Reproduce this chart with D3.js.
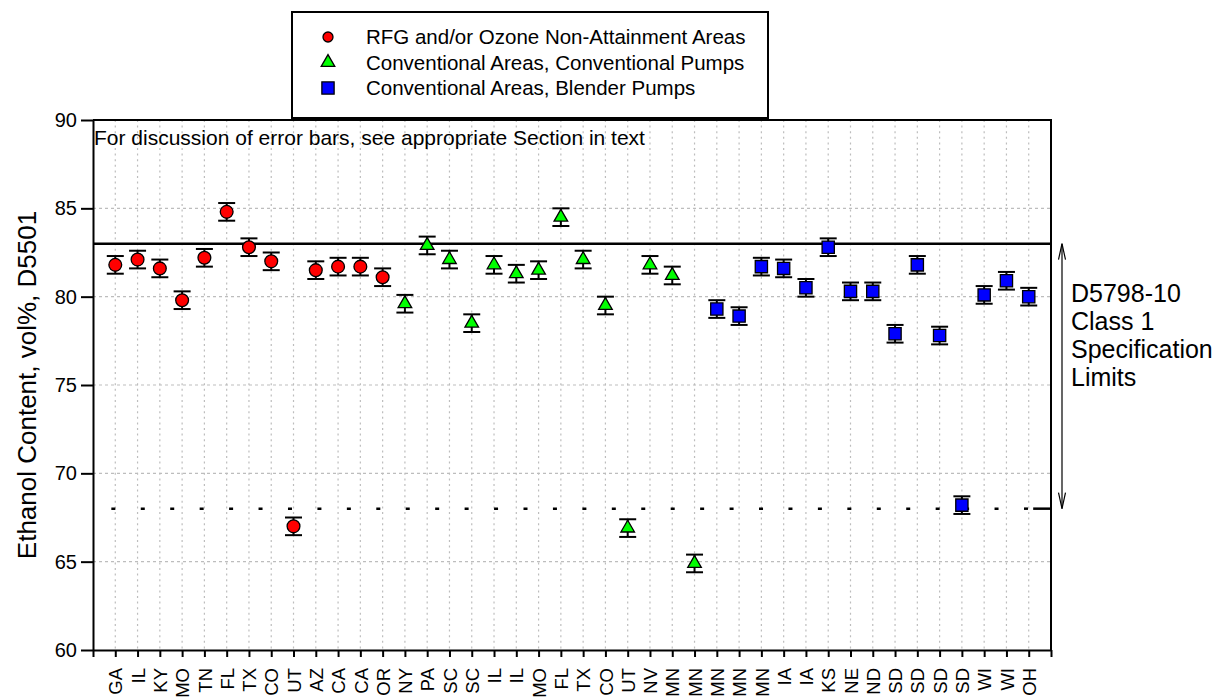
<!DOCTYPE html>
<html>
<head>
<meta charset="utf-8">
<script src="https://cdn.jsdelivr.net/npm/d3@7"></script>
<style>
  body { margin: 0; background: #fff; }
  svg { display: block; font-family: "Liberation Sans", Arial, sans-serif; }
</style>
</head>
<body>
<div id="chart"></div>
<script>
'use strict'

////////////////////////////////////////
/////////////// Data ///////////////////
////////////////////////////////////////

const rfgStates = ["GA", "IL", "KY", "MO", "TN", "FL", "TX", "CO", "UT", "AZ", "CA", "CA", "OR"];
const rfgValues = [81.8, 82.1, 81.6, 79.8, 82.2, 84.8, 82.8, 82.0, 67.0, 81.5, 81.7, 81.7, 81.1];

const convStates = ["NY", "PA", "SC", "SC", "IL", "IL", "MO", "FL", "TX", "CO", "UT", "NV", "MN", "MN"];
const convValues = [79.6, 82.9, 82.1, 78.5, 81.8, 81.3, 81.5, 84.5, 82.1, 79.5, 66.9, 81.8, 81.2, 64.9];

const blendStates = ["MN", "MN", "MN", "IA", "IA", "KS", "NE", "ND", "SD", "SD", "SD", "SD", "WI", "WI", "OH"];
const blendValues = [79.3, 78.9, 81.7, 81.6, 80.5, 82.8, 80.3, 80.3, 77.9, 81.8, 77.8, 68.2, 80.1, 80.9, 80.0];

const errHalf = 0.5;          // error bar half width, vol%
const specHigh = 83;          // D5798-10 class 1 limits
const specLow = 68;
const yTicks = [60, 65, 70, 75, 80, 85, 90];
const gridY = [65, 70, 75, 80, 85];

const seriesNames = [
  "RFG and/or Ozone Non-Attainment Areas",
  "Conventional Areas, Conventional Pumps",
  "Conventional Areas, Blender Pumps"
];
const seriesColors = ["#ff0000", "#00ff00", "#0000ff"];
const seriesShapes = ["circle", "triangle", "square"];

////////////////////////////////////////
/////////////// Setup //////////////////
////////////////////////////////////////

const width = 1215, height = 698;
const margin = { top: 120, right: 164, bottom: 48, left: 93 };
const plotW = width - margin.left - margin.right;
const plotH = height - margin.top - margin.bottom;

let points = [];
[[rfgStates, rfgValues], [convStates, convValues], [blendStates, blendValues]].forEach(([st, vals], s) => {
  st.forEach((d, i) => points.push({ state: d, value: vals[i], series: s }));
});
points.forEach((d, i) => d.pos = i + 1);

const svg = d3.select('#chart').append('svg')
  .attr('width', width)
  .attr('height', height);

const x = d3.scaleLinear().domain([0, points.length + 1]).range([0, plotW]);
const y = d3.scaleLinear().domain([60, 90]).range([plotH, 0]);

const g = svg.append('g').attr('transform', `translate(${margin.left},${margin.top})`);

const symbolFor = {
  circle: null,
  triangle: d3.symbol().type(d3.symbolTriangle).size(80),
  square: d3.symbol().type(d3.symbolSquare).size(150)
};

////////////////////////////////////////
/////////////// Grid ///////////////////
////////////////////////////////////////

g.selectAll('.vgrid')
  .data(points)
  .join('line')
  .attr('x1', d => x(d.pos)).attr('x2', d => x(d.pos))
  .attr('y1', 0).attr('y2', plotH)
  .attr('stroke', '#bdbdbd')
  .attr('stroke-width', 1.2)
  .attr('stroke-dasharray', '2,3.6');

g.selectAll('.hgrid')
  .data(gridY)
  .join('line')
  .attr('x1', 0).attr('x2', plotW)
  .attr('y1', d => y(d)).attr('y2', d => y(d))
  .attr('stroke', '#bdbdbd')
  .attr('stroke-width', 1.2)
  .attr('stroke-dasharray', '3,3');

// spec limits
g.append('line')
  .attr('x1', 0).attr('x2', plotW)
  .attr('y1', y(specHigh)).attr('y2', y(specHigh))
  .attr('stroke', '#000')
  .attr('stroke-width', 2.5);

g.append('line')
  .attr('x1', 0).attr('x2', x(42.2))
  .attr('y1', y(specLow)).attr('y2', y(specLow))
  .attr('stroke', '#000')
  .attr('stroke-width', 2.5)
  .attr('stroke-dasharray', '4,25.44')
  .attr('stroke-dashoffset', 11.1);

g.append('line')
  .attr('x1', x(42.2)).attr('x2', plotW)
  .attr('y1', y(specLow)).attr('y2', y(specLow))
  .attr('stroke', '#000')
  .attr('stroke-width', 2.5);

////////////////////////////////////////
/////////////// Axes ///////////////////
////////////////////////////////////////

const xAxis = g.append('g')
  .attr('transform', `translate(0,${plotH})`)
  .call(d3.axisBottom(x)
    .tickValues(d3.range(0, points.length + 2))
    .tickSize(7)
    .tickSizeOuter(0)
    .tickFormat(d => (d >= 1 && d <= points.length) ? points[d - 1].state : ''));

xAxis.selectAll('text')
  .attr('font-size', 18.5)
  .attr('fill', '#000')
  .attr('text-anchor', 'end')
  .attr('transform', 'rotate(-90)')
  .attr('x', -18)
  .attr('y', 0)
  .attr('dy', '0.36em');

const yAxis = g.append('g')
  .call(d3.axisLeft(y)
    .tickValues(yTicks)
    .tickSize(12)
    .tickSizeOuter(0)
    .tickPadding(4));

yAxis.selectAll('text').attr('font-size', 20).attr('fill', '#000');

[xAxis, yAxis].forEach(a => {
  a.select('.domain').attr('stroke', '#000').attr('stroke-width', 2);
  a.selectAll('.tick line').attr('stroke', '#000').attr('stroke-width', 2);
});

// top and right frame
g.append('path')
  .attr('d', `M0,0H${plotW}V${plotH}`)
  .attr('fill', 'none')
  .attr('stroke', '#000')
  .attr('stroke-width', 2);

svg.append('text')
  .attr('transform', `translate(36,${margin.top + plotH / 2}) rotate(-90)`)
  .attr('text-anchor', 'middle')
  .attr('font-size', 26)
  .text('Ethanol Content, vol%, D5501');

g.append('text')
  .attr('x', 1)
  .attr('y', 25)
  .attr('font-size', 21)
  .text('For discussion of error bars, see appropriate Section in text');

////////////////////////////////////////
/////////////// Marks //////////////////
////////////////////////////////////////

const cap = 8.5;
const bars = g.selectAll('.err')
  .data(points)
  .join('g')
  .attr('class', 'err')
  .attr('stroke', '#000')
  .attr('stroke-width', 2);

bars.append('line')
  .attr('x1', d => x(d.pos)).attr('x2', d => x(d.pos))
  .attr('y1', d => y(d.value - errHalf)).attr('y2', d => y(d.value + errHalf));
bars.append('line')
  .attr('x1', d => x(d.pos) - cap).attr('x2', d => x(d.pos) + cap)
  .attr('y1', d => y(d.value + errHalf)).attr('y2', d => y(d.value + errHalf));
bars.append('line')
  .attr('x1', d => x(d.pos) - cap).attr('x2', d => x(d.pos) + cap)
  .attr('y1', d => y(d.value - errHalf)).attr('y2', d => y(d.value - errHalf));

function drawMarker(sel, shape, color, size) {
  if (shape === 'circle') {
    sel.append('circle').attr('r', size);
  } else {
    sel.append('path').attr('d', symbolFor[shape]);
  }
  sel.selectAll('circle, path')
    .attr('fill', color)
    .attr('stroke', '#000')
    .attr('stroke-width', 1.3);
}

g.selectAll('.marker')
  .data(points)
  .join('g')
  .attr('class', 'marker')
  .attr('transform', d => `translate(${x(d.pos)},${y(d.value)})`)
  .each(function (d) {
    drawMarker(d3.select(this), seriesShapes[d.series], seriesColors[d.series], 6.4);
  });

////////////////////////////////////////
/////////////// Spec note //////////////
////////////////////////////////////////

const ax = plotW + 11;
const note = g.append('g')
  .attr('stroke', '#000')
  .attr('stroke-width', 1.2)
  .attr('fill', 'none');

note.append('line')
  .attr('x1', ax).attr('x2', ax)
  .attr('y1', y(specHigh)).attr('y2', y(specLow));
note.append('path')
  .attr('d', `M${ax - 3.5},${y(specHigh) + 16}L${ax},${y(specHigh)}L${ax + 3.5},${y(specHigh) + 16}`);
note.append('path')
  .attr('d', `M${ax - 3.5},${y(specLow) - 16}L${ax},${y(specLow)}L${ax + 3.5},${y(specLow) - 16}`);

g.append('text')
  .attr('x', ax + 9)
  .attr('y', y(80) + 5)
  .attr('font-size', 25)
  .selectAll('tspan')
  .data(['D5798-10', 'Class 1', 'Specification', 'Limits'])
  .join('tspan')
  .attr('x', ax + 9)
  .attr('dy', (d, i) => i === 0 ? 0 : 28)
  .text(d => d);

////////////////////////////////////////
/////////////// Legend /////////////////
////////////////////////////////////////

const legend = svg.append('g').attr('transform', 'translate(292,12)');

legend.append('rect')
  .attr('width', 476)
  .attr('height', 106)
  .attr('fill', '#fff')
  .attr('stroke', '#000')
  .attr('stroke-width', 2);

const rows = legend.selectAll('.row')
  .data(seriesNames)
  .join('g')
  .attr('class', 'row')
  .attr('transform', (d, i) => `translate(36,${25 + i * 25.5})`);

rows.each(function (d, i) {
  const m = d3.select(this).append('g');
  drawMarker(m, seriesShapes[i], seriesColors[i], 5);
});

rows.append('text')
  .attr('x', 38)
  .attr('dy', '0.36em')
  .attr('font-size', 20.5)
  .text(d => d);
</script>
</body>
</html>
